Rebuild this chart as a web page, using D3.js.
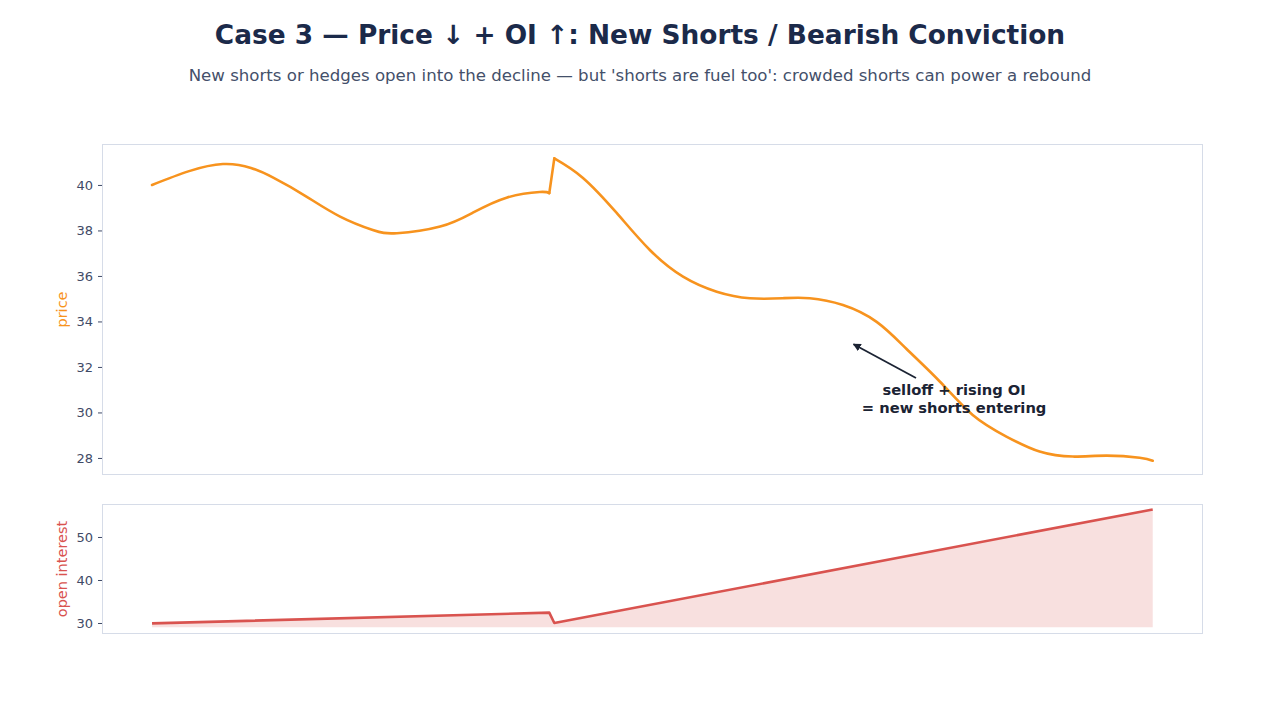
<!DOCTYPE html>
<html>
<head>
<meta charset="utf-8">
<script src="https://cdn.jsdelivr.net/npm/d3@7"></script>
<style>
  html, body { margin: 0; padding: 0; background: #ffffff; }
  svg { display: block; }
</style>
</head>
<body>
<svg id="chart" width="1280" height="720"></svg>
<script>
// ---- data ----
const priceDays = [0, 14.1, 24.1, 30.7, 37.4, 43.9, 48.7, 57.3, 63.8, 70.5, 77.1, 79, 80, 85.7, 92.4, 99.0, 105.6, 112.3, 118.9, 125.4, 130.8, 137.4, 144.1, 150.0, 156.7, 163.2, 169.9, 176.5, 183.1, 189.8, 196.4, 199];
const priceValues = [40.0, 40.92, 40.32, 39.49, 38.61, 38.02, 37.88, 38.17, 38.78, 39.44, 39.69, 39.64, 41.17, 40.31, 38.77, 37.14, 35.97, 35.31, 35.02, 35.02, 35.02, 34.72, 33.98, 32.80, 31.35, 29.89, 28.94, 28.28, 28.06, 28.10, 28.01, 27.88];
const jumpDay = 80; // first day after the gap
const oiDays = [0, 79, 80, 199];
const oiValues = [29.9, 32.4, 30.0, 56.4];
const oiFloor = 29.0;
const priceTicks = [28, 30, 32, 34, 36, 38, 40];
const oiTicks = [30, 40, 50];
const titleText = "Case 3 \u2014 Price \u2193 + OI \u2191: New Shorts / Bearish Conviction";
const subtitleText = "New shorts or hedges open into the decline \u2014 but 'shorts are fuel too': crowded shorts can power a rebound";
const annotationLines = ["selloff + rising OI", "= new shorts entering"];
const annotationPoint = { day: 139.5, price: 33.0 };
const annotationText = { day: 159.5, price: 31.2 };

// ---- layout ----
const svg = d3.select("#chart");
const FONT = "'DejaVu Sans', sans-serif";
const frameLeft = 102, frameRight = 1203;
const top1 = 144, bottom1 = 475;
const top2 = 504, bottom2 = 634;
const ORANGE = "#f7931e", RED = "#d9534f", FRAME = "#d6dce8", TICKTXT = "#3f4a66";

const x = d3.scaleLinear().domain([-9.95, 209.0]).range([frameLeft, frameRight]);
const yP = d3.scaleLinear().domain([27.25, 41.8]).range([bottom1, top1]);
const yO = d3.scaleLinear().domain([27.44, 57.67]).range([bottom2, top2]);

// titles
svg.append("text").attr("x", 640).attr("y", 44).attr("text-anchor", "middle")
  .attr("font-family", FONT).attr("font-weight", "bold")
  .attr("font-size", 26.4).attr("fill", "#1b2a4a").text(titleText);
svg.append("text").attr("x", 640).attr("y", 81).attr("text-anchor", "middle")
  .attr("font-family", FONT)
  .attr("font-size", 16.6).attr("fill", "#44506a").text(subtitleText);

function frame(top, bottom) {
  svg.append("rect").attr("x", frameLeft + 0.5).attr("y", top + 0.5)
    .attr("width", frameRight - frameLeft - 1).attr("height", bottom - top - 1)
    .attr("fill", "none").attr("stroke", FRAME).attr("stroke-width", 1);
}
function yAxis(scale, ticks) {
  const g = svg.append("g").attr("transform", `translate(${frameLeft},0)`)
    .call(d3.axisLeft(scale).tickValues(ticks).tickSize(4).tickPadding(5).tickFormat(d3.format("d")));
  g.select(".domain").remove();
  g.selectAll(".tick line").attr("stroke", TICKTXT);
  g.selectAll(".tick text").attr("fill", TICKTXT).attr("font-size", 13)
    .attr("font-family", FONT);
}

// ---- price panel ----
frame(top1, bottom1);
yAxis(yP, priceTicks);
const priceData = priceDays.map((d, i) => ({ d, v: priceValues[i] }));
const before = priceData.filter(p => p.d < jumpDay);
const after = priceData.filter(p => p.d >= jumpDay);
const smooth = d3.line().x(p => x(p.d)).y(p => yP(p.v)).curve(d3.curveNatural);
const straight = d3.line().x(p => x(p.d)).y(p => yP(p.v));
[
  smooth(before),
  straight([before[before.length - 1], after[0]]),
  smooth(after)
].forEach(dStr => {
  svg.append("path").attr("d", dStr)
    .attr("fill", "none").attr("stroke", ORANGE).attr("stroke-width", 2.6)
    .attr("stroke-linejoin", "round").attr("stroke-linecap", "round");
});
svg.append("text")
  .attr("transform", `translate(67,${(top1 + bottom1) / 2}) rotate(-90)`)
  .attr("text-anchor", "middle").attr("font-family", FONT)
  .attr("font-size", 14.5).attr("fill", ORANGE).text("price");

// annotation arrow
svg.append("defs").append("marker").attr("id", "ah")
  .attr("viewBox", "0 0 10 10").attr("refX", 9).attr("refY", 5)
  .attr("markerWidth", 8).attr("markerHeight", 8).attr("markerUnits", "userSpaceOnUse")
  .attr("orient", "auto")
  .append("path").attr("d", "M0,0 L10,5 L0,10 Z").attr("fill", "#1b2333");
svg.append("line")
  .attr("x1", 916).attr("y1", 378)
  .attr("x2", x(annotationPoint.day)).attr("y2", yP(annotationPoint.price))
  .attr("stroke", "#1b2333").attr("stroke-width", 1.8).attr("marker-end", "url(#ah)");
const at = svg.append("text").attr("text-anchor", "middle")
  .attr("font-family", FONT).attr("font-weight", "bold")
  .attr("font-size", 14.7).attr("fill", "#1b2333");
annotationLines.forEach((l, i) => {
  at.append("tspan").attr("x", x(annotationText.day)).attr("y", 395 + i * 17.5).text(l);
});

// ---- OI panel ----
frame(top2, bottom2);
yAxis(yO, oiTicks);
const oiData = oiDays.map((d, i) => ({ d, v: oiValues[i] }));
svg.append("path").datum(oiData)
  .attr("d", d3.area().x(p => x(p.d)).y0(yO(oiFloor)).y1(p => yO(p.v)))
  .attr("fill", RED).attr("fill-opacity", 0.18);
svg.append("path").datum(oiData)
  .attr("d", d3.line().x(p => x(p.d)).y(p => yO(p.v)))
  .attr("fill", "none").attr("stroke", RED).attr("stroke-width", 2.6)
  .attr("stroke-linejoin", "round");
svg.append("text")
  .attr("transform", `translate(67,${(top2 + bottom2) / 2}) rotate(-90)`)
  .attr("text-anchor", "middle").attr("font-family", FONT)
  .attr("font-size", 14.5).attr("fill", RED).text("open interest");
</script>
</body>
</html>
